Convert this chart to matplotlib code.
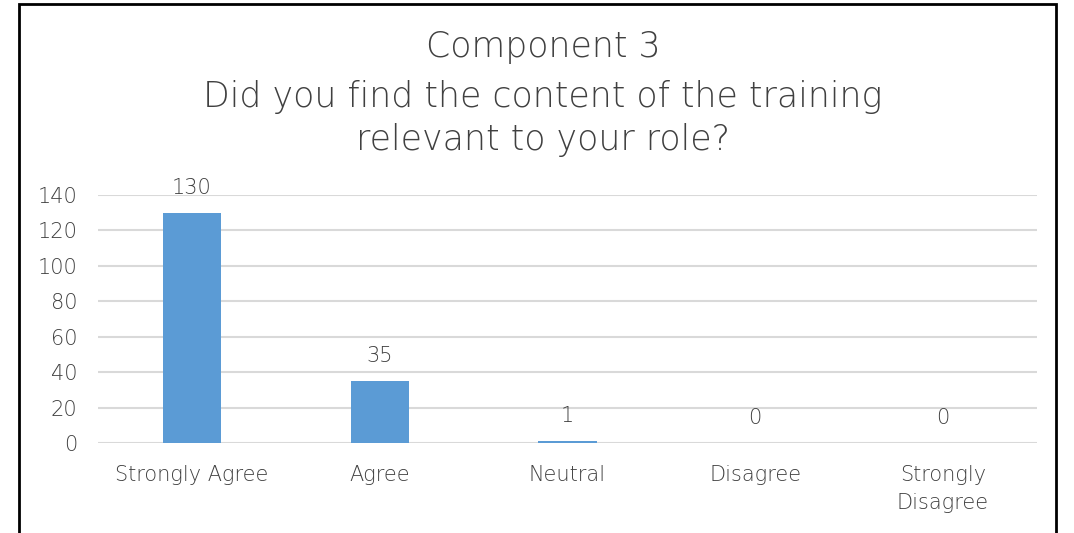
import matplotlib
matplotlib.use("Agg")
import matplotlib.pyplot as plt
from matplotlib.patches import Rectangle

# data
categories = ['Strongly Agree', 'Agree', 'Neutral', 'Disagree', 'Strongly\nDisagree']
counts = [130, 35, 1, 0, 0]
yticks = [0, 20, 40, 60, 80, 100, 120, 140]

plt.rcParams['font.family'] = ['DejaVu Sans']
plt.rcParams['font.weight'] = 'light'
text_color = '#404040'

fig = plt.figure(figsize=(10.74, 5.33), dpi=100)
ax = fig.add_axes([0.0912, 0.1689, 0.8743, 0.4652])

x = list(range(len(categories)))
bars = ax.bar(x, counts, width=0.31, color='#5b9bd5', zorder=3)

ax.set_xlim(-0.5, len(categories) - 0.5)
ax.set_ylim(0, 140)
ax.set_yticks(yticks)
ax.set_xticks(x)
ax.set_xticklabels(categories, fontsize=15, color=text_color, linespacing=1.5)
ax.tick_params(axis='y', labelsize=15, labelcolor=text_color, length=0, pad=15)
ax.tick_params(axis='x', length=0, pad=16)
ax.grid(axis='y', color='#d9d9d9', linewidth=1.5, zorder=0)
for s in ax.spines.values():
    s.set_visible(False)

# value labels
for b, v in zip(bars, counts):
    ax.annotate(str(v), (b.get_x() + b.get_width() / 2, v),
                xytext=(0, 18), textcoords='offset points',
                ha='center', va='center', fontsize=15, color=text_color,
                annotation_clip=False)

fig.text(0.5056, 0.911, 'Component 3', ha='center', va='center',
         fontsize=25, color=text_color)
fig.text(0.5056, 0.818, 'Did you find the content of the training',
         ha='center', va='center', fontsize=25, color=text_color)
fig.text(0.5056, 0.737, 'relevant to your role?', ha='center', va='center',
         fontsize=25, color=text_color)

# outer frame like the pasted chart
fig.patches.append(Rectangle((19 / 1074, -0.05), (1056 - 19) / 1074, 1.05 - 4 / 533,
                             transform=fig.transFigure, fill=False,
                             edgecolor='black', linewidth=2))

fig.savefig('out.png', dpi=100)
